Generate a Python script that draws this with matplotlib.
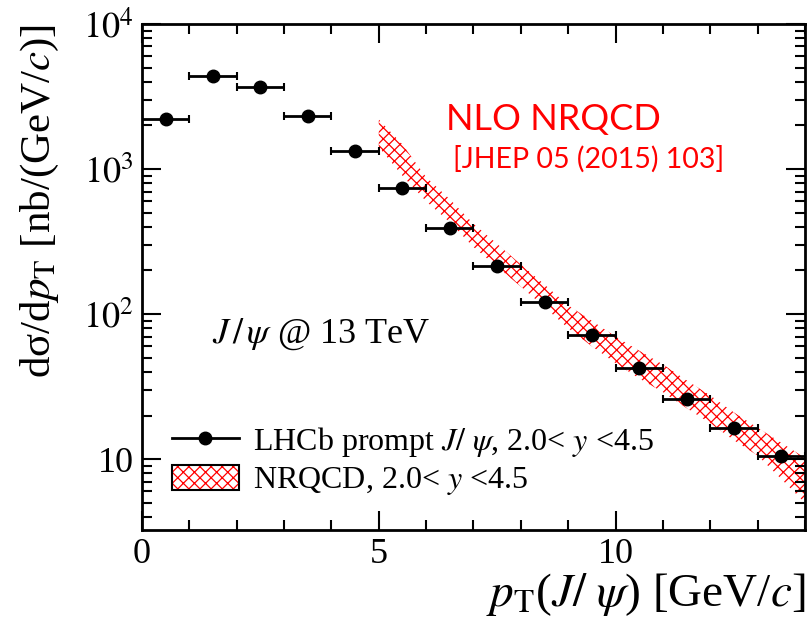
import matplotlib
matplotlib.use("Agg")
import matplotlib.pyplot as plt
from matplotlib.patches import Patch
from matplotlib.lines import Line2D
from matplotlib.legend_handler import HandlerTuple
from matplotlib.ticker import MultipleLocator, LogLocator, NullFormatter
import numpy as np

# LHCb prompt J/psi, 13 TeV, 2.0 < y < 4.5
pt_centre = [0.5, 1.5, 2.5, 3.5, 4.5, 5.5, 6.5, 7.5, 8.5, 9.5, 10.5, 11.5, 12.5, 13.5]
pt_halfwidth = [0.5] * 14
xsec = [2220, 4350, 3700, 2330, 1330, 738, 395, 215, 121, 71.5, 42.2, 25.8, 16.3, 10.6]

# NLO NRQCD band
band_pt = [5.0, 5.5, 6.0, 6.5, 7.0, 7.5, 8.0, 8.5, 9.0, 9.5, 10.0,
           10.5, 11.0, 11.5, 12.0, 12.5, 13.0, 13.5, 14.0]
band_hi = [2200, 1480, 880, 620, 420, 305, 220, 160, 115, 90, 70,
           56, 45, 35, 27.5, 21, 16.5, 13, 10.2]
band_lo = [1420, 900, 600, 430, 290, 212, 155, 112, 80, 60, 46,
           36, 29, 22.5, 17.7, 13.5, 10.6, 7.3, 5.0]

plt.rcParams['font.family'] = ['Liberation Serif', 'DejaVu Serif']
plt.rcParams['mathtext.fontset'] = 'stix'
plt.rcParams['hatch.linewidth'] = 0.9

fig = plt.figure(figsize=(8.09, 6.29), dpi=100)
ax = fig.add_axes([0.1755, 0.1574, 0.8195, 0.8044])

ax.fill_between(band_pt, band_lo, band_hi, facecolor='none', edgecolor='red',
                hatch='xxx', linewidth=0)
ax.errorbar(pt_centre, xsec, xerr=pt_halfwidth, fmt='o', color='black',
            markersize=9, elinewidth=2, capsize=3, capthick=1.5)

ax.set_yscale('log')
ax.set_xlim(0, 14)
ax.set_ylim(3.25, 1e4)

ax.xaxis.set_major_locator(MultipleLocator(5))
ax.xaxis.set_minor_locator(MultipleLocator(1))
ax.set_yticks([10, 100, 1000, 10000])
ax.set_yticklabels(['10', '$10^2$', '$10^3$', '$10^4$'])
ax.yaxis.set_minor_locator(LogLocator(base=10, subs=np.arange(2, 10)))
ax.yaxis.set_minor_formatter(NullFormatter())

ax.tick_params(which='both', direction='in', top=True, right=True, width=1.5, labelsize=26)
ax.tick_params(which='major', length=14)
ax.tick_params(which='minor', length=7)
ax.tick_params(axis='x', pad=6)
ax.tick_params(axis='y', pad=6)
for s in ax.spines.values():
    s.set_linewidth(2)

ax.set_ylabel('dσ/d$p_{\\rm T}$ [nb/(GeV/$c$)]', fontsize=31, loc='top', labelpad=16)
ax.set_xlabel('$p_{\\rm T}$($J/\\ \\psi$) [GeV/$c$]', fontsize=34, loc='right',
              labelpad=0)

ax.text(0.458, 0.79, 'NLO NRQCD', transform=ax.transAxes, color='red',
        fontsize=26, family='Lato')
ax.text(0.469, 0.715, '[JHEP 05 (2015) 103]', transform=ax.transAxes, color='red',
        fontsize=20.5, family='Lato')
ax.text(0.106, 0.37, '$J\\,/\\,\\psi$ @ 13 TeV', transform=ax.transAxes, fontsize=26)

h_data = Line2D([], [], color='black', marker='o', markersize=9, linewidth=2)
h_band = (Patch(facecolor='none', edgecolor='red', hatch='xxx', linewidth=0),
          Patch(facecolor='none', edgecolor='black', linewidth=1.5))
ax.legend([h_data, h_band],
          ['LHCb prompt $J/\\ \\psi$, 2.0< $y$ <4.5', 'NRQCD, 2.0< $y$ <4.5'],
          handler_map={tuple: HandlerTuple(ndivide=1)},
          loc='upper left', bbox_to_anchor=(0.045, 0.208), frameon=False,
          fontsize=23, handlelength=2.1, handleheight=0.8, handletextpad=0.45,
          labelspacing=0.2, borderpad=0, borderaxespad=0)

fig.savefig('out.png', dpi=100)
